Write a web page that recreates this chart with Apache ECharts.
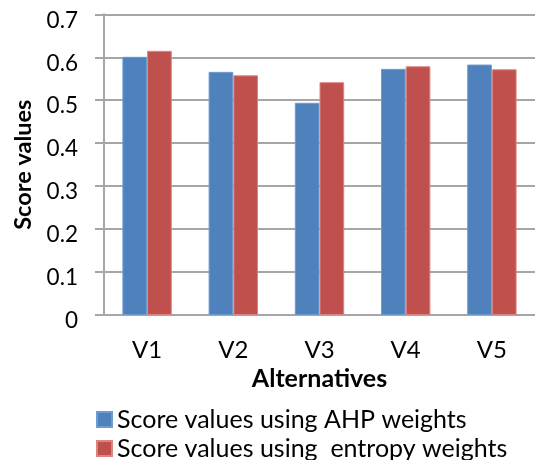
<!DOCTYPE html>
<html>
<head>
<meta charset="utf-8">
<script src="https://cdn.jsdelivr.net/npm/echarts@6/dist/echarts.min.js"></script>
<style>html,body{margin:0;padding:0;background:#fff}#c{width:535px;height:460px}</style>
</head>
<body>
<div id="c"></div>
<script>
const categories = ['V1', 'V2', 'V3', 'V4', 'V5'];
const ahpScores = [0.601, 0.566, 0.494, 0.573, 0.583];
const entropyScores = [0.615, 0.558, 0.542, 0.579, 0.572];
const seriesNames = ['Score values using AHP weights', 'Score values using  entropy weights'];
const yTicks = { min: 0, max: 0.7, interval: 0.1 };

const FONT = 'Lato';
const legendText = { fontFamily: FONT, fontSize: 25, color: '#000' };
const chart = echarts.init(document.getElementById('c'), null, { renderer: 'canvas' });
chart.setOption({
  animation: false,
  backgroundColor: '#fff',
  textStyle: { fontFamily: FONT, color: '#000' },
  grid: { left: 104, right: -2.75, top: 14.3, bottom: 145, containLabel: false },
  legend: [
    {
      left: 91, top: 402, itemWidth: 15, itemHeight: 15, itemGap: 0, icon: 'rect',
      textStyle: legendText, data: [seriesNames[0]]
    },
    {
      left: 91, top: 431, itemWidth: 15, itemHeight: 15, itemGap: 0, icon: 'rect',
      textStyle: legendText, data: [seriesNames[1]]
    }
  ],
  xAxis: {
    type: 'category',
    data: categories,
    name: 'Alternatives',
    nameLocation: 'middle',
    nameGap: 50,
    nameTextStyle: { fontFamily: FONT, fontSize: 25, fontWeight: 'bold', color: '#000' },
    axisLine: { lineStyle: { color: '#a6a6a6', width: 2 } },
    axisTick: { show: false },
    axisLabel: { fontFamily: FONT, fontSize: 24, color: '#000', margin: 23 }
  },
  yAxis: {
    type: 'value',
    min: yTicks.min, max: yTicks.max, interval: yTicks.interval,
    name: 'Score values',
    nameLocation: 'middle',
    nameGap: 68,
    nameTextStyle: { fontFamily: FONT, fontSize: 23.5, fontWeight: 'bold', color: '#000' },
    axisLine: { show: true, lineStyle: { color: '#a6a6a6', width: 2 } },
    axisTick: { show: true, length: 9, lineStyle: { color: '#a6a6a6', width: 2 } },
    axisLabel: {
      fontFamily: FONT, fontSize: 22.5, color: '#000', margin: 26,
      verticalAlign: 'top', lineHeight: 12,
      formatter: v => (v === 0 ? '0' : v.toFixed(1))
    },
    splitLine: { lineStyle: { color: '#a6a6a6', width: 2 } }
  },
  series: [
    {
      name: seriesNames[0], type: 'bar', data: ahpScores,
      barWidth: 24.7, barGap: '0%',
      itemStyle: { color: '#4f81bd', borderColor: '#6f9bd0', borderWidth: 1 }
    },
    {
      name: seriesNames[1], type: 'bar', data: entropyScores,
      barWidth: 24.7, barGap: '0%',
      itemStyle: { color: '#c0504d', borderColor: '#d98683', borderWidth: 1 }
    }
  ]
});
</script>
</body>
</html>
